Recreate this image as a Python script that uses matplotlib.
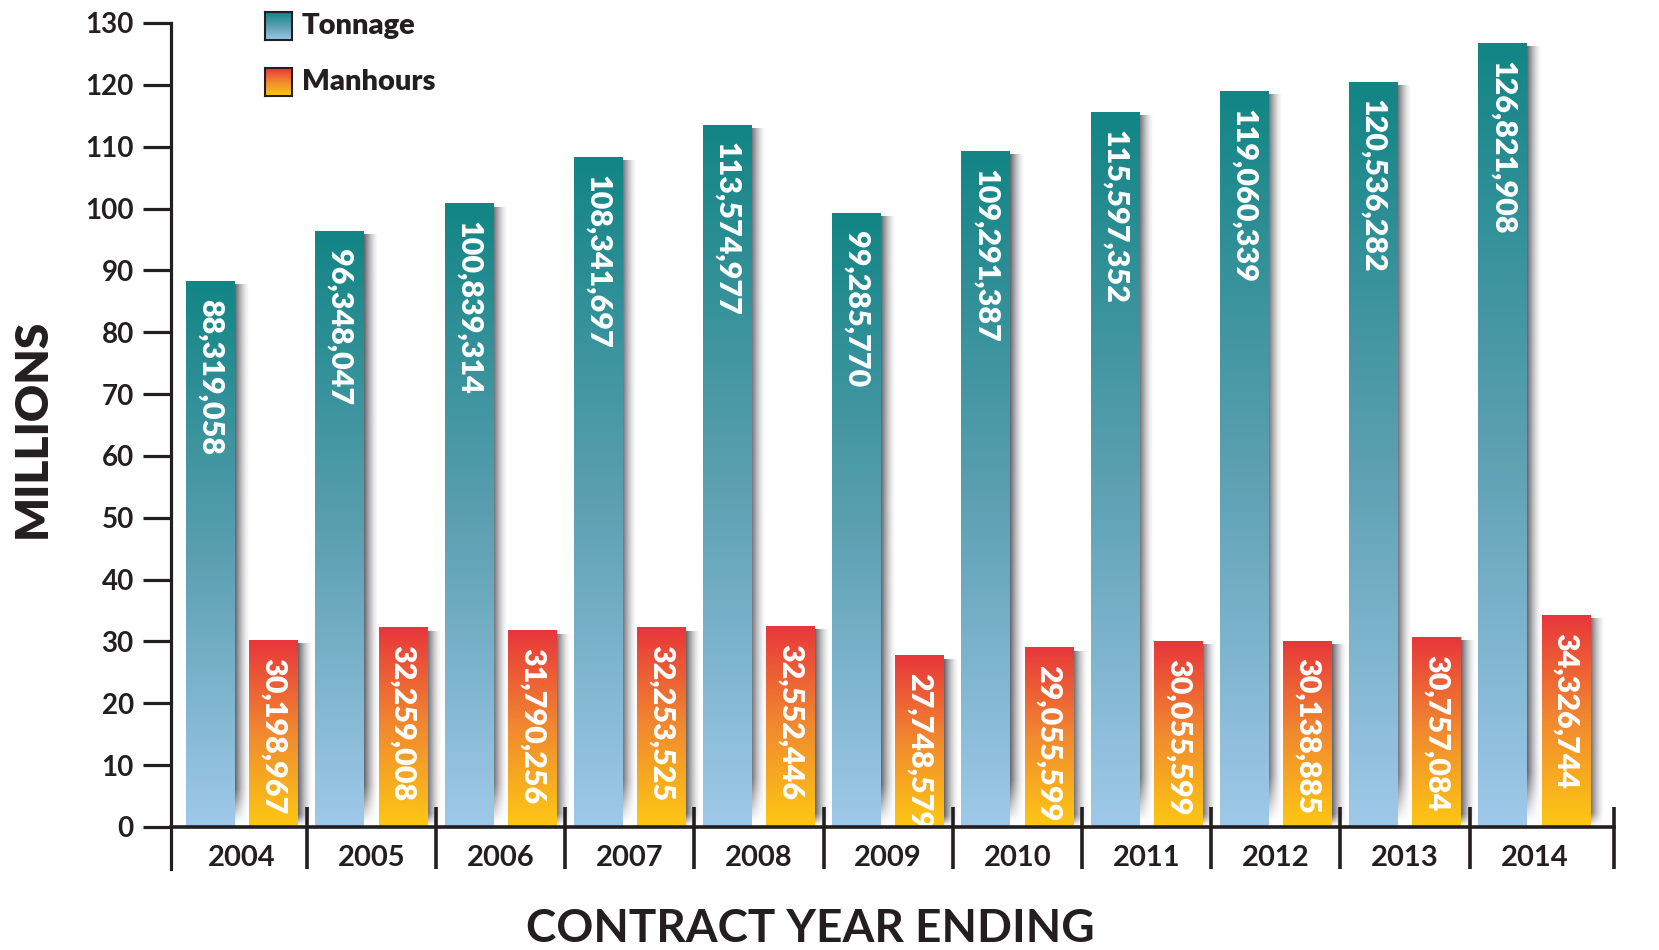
import numpy as np
import matplotlib
matplotlib.use('Agg')
import matplotlib.pyplot as plt
from matplotlib.colors import LinearSegmentedColormap, to_rgb

# ---------------- data ----------------
years = ['2004', '2005', '2006', '2007', '2008', '2009', '2010', '2011', '2012', '2013', '2014']
tonnage = [88319058, 96348047, 100839314, 108341697, 113574977, 99285770,
           109291387, 115597352, 119060339, 120536282, 126821908]
manhours = [30198967, 32259008, 31790256, 32253525, 32552446, 27748579,
            29055599, 30055599, 30138885, 30757084, 34326744]
series_names = ['Tonnage', 'Manhours']
y_ticks = list(range(0, 131, 10))
y_label = 'MILLIONS'
x_label = 'CONTRACT YEAR ENDING'

# ---------------- style ----------------
plt.rcParams['font.family'] = ['Lato', 'DejaVu Sans']
INK = '#231f20'
tonnage_grad = ['#128585', '#5a9fb0', '#9fc9ea']     # top -> bottom
manhours_grad = ['#e8363b', '#f18a2f', '#fdc813']    # top -> bottom
SHADOW = '#3a3a44'

fig = plt.figure(figsize=(16.59, 9.5), dpi=100)
ax = fig.add_axes([0.1033, 0.0853, 0.8693, 0.8905])

YMIN, YMAX = -6.8, 130
XMIN, XMAX = -0.548, 10.614
ax.set_xlim(XMIN, XMAX)
ax.set_ylim(YMIN, YMAX)

x = np.arange(len(years))
w = 0.377
off = 0.245
t_vals = np.array(tonnage) / 1e6
m_vals = np.array(manhours) / 1e6


def grad_array(colors, n=256):
    cmap = LinearSegmentedColormap.from_list('g', colors)
    return cmap(np.linspace(0, 1, n))[:, None, :]


def shadow_array(nx=64, ny=64):
    rgb = np.array(to_rgb(SHADOW))
    arr = np.zeros((ny, nx, 4))
    arr[..., :3] = rgb
    tx = np.linspace(0, 1, nx)
    ax_alpha = 0.88 * (1 - tx) ** 1.6
    ty = np.linspace(0, 1, ny)
    ay = np.clip(ty / 0.06, 0, 1)  # fade at the top
    arr[..., 3] = ay[:, None] * ax_alpha[None, :]
    return arr


sh = shadow_array()

for vals, offs, grad in [(t_vals, -off, tonnage_grad), (m_vals, off, manhours_grad)]:
    bars = ax.bar(x + offs, vals, w, color='none', edgecolor='none', zorder=3)
    g = grad_array(grad)
    for b in bars:
        x0 = b.get_x()
        x1 = x0 + b.get_width()
        h = b.get_height()
        # drop shadow
        ax.imshow(sh, extent=(x1 - 0.01, x1 + 0.11, 0, h - 0.6), origin='lower',
                  aspect='auto', zorder=2, interpolation='bilinear')
        im = ax.imshow(g, extent=(x0, x1, 0, h), origin='upper', aspect='auto',
                       zorder=3, interpolation='bilinear')
        im.set_clip_path(b)
        ax.text(x0 + b.get_width() / 2, h - 2.9, f'{int(round(h * 1e6)):,}',
                rotation=-90, rotation_mode='anchor', ha='left', va='center',
                color='white', fontsize=22, fontweight='heavy', zorder=5)

ax.set_xlim(XMIN, XMAX)
ax.set_ylim(YMIN, YMAX)

# axes / spines
for s in ['top', 'right']:
    ax.spines[s].set_visible(False)
ax.spines['left'].set_linewidth(2.3)
ax.spines['left'].set_color(INK)
ax.spines['bottom'].set_position(('data', 0))
ax.spines['bottom'].set_linewidth(2.6)
ax.spines['bottom'].set_color(INK)
ax.spines['bottom'].set_zorder(6)

ax.set_yticks(y_ticks)
ax.tick_params(axis='y', length=20, width=2.3, direction='out', pad=7,
               labelsize=20, colors=INK)
for lab in ax.get_yticklabels():
    lab.set_fontweight('bold')

ax.set_xticks(x, years)
ax.tick_params(axis='x', length=0, pad=13, labelsize=21, colors=INK)
for lab in ax.get_xticklabels():
    lab.set_fontweight('bold')

# category separators
seps = [i + 0.5 for i in range(len(years) - 1)] + [XMAX]
ax.vlines(seps, YMIN, 3.2, color=INK, lw=2.6, clip_on=False, zorder=6)

# axis titles
fig.text(32 / 1659, 1 - 428 / 950, y_label, rotation=90, ha='center', va='center',
         fontsize=33, fontweight='heavy', color=INK)
fig.text(810 / 1659, 1 - 929 / 950, x_label, ha='center', va='center',
         fontsize=33, fontweight='bold', color=INK)

# legend
leg_y = [26, 82]
for name, grad, yc in zip(series_names, [tonnage_grad, manhours_grad], leg_y):
    sq = 28
    lax = fig.add_axes([264.5 / 1659, 1 - (yc + sq / 2) / 950, sq / 1659, sq / 950])
    lax.imshow(grad_array(grad), aspect='auto', extent=(0, 1, 0, 1), origin='upper')
    lax.set_xticks([])
    lax.set_yticks([])
    for s in lax.spines.values():
        s.set_linewidth(1.5)
        s.set_color(INK)
    fig.text(302 / 1659, 1 - yc / 950, name, ha='left', va='center',
             fontsize=21, fontweight='heavy', color=INK)

fig.savefig('out.png', dpi=100, facecolor='white')
